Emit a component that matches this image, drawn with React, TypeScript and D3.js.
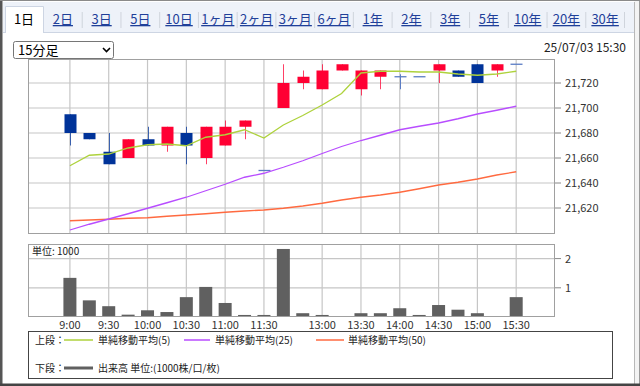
import React from "react";
import * as d3 from "d3";

const tabs = ["1日", "2日", "3日", "5日", "10日", "1ヶ月", "2ヶ月", "3ヶ月", "6ヶ月", "1年", "2年", "3年", "5年", "10年", "20年", "30年"];
const times = ["9:00", "9:15", "9:30", "9:45", "10:00", "10:15", "10:30", "10:45", "11:00", "11:15", "11:30", "12:30", "12:45", "13:00", "13:15", "13:30", "13:45", "14:00", "14:15", "14:30", "14:45", "15:00", "15:15", "15:30"];
const timeTicks = ["9:00", "9:30", "10:00", "10:30", "11:00", "11:30", "13:00", "13:30", "14:00", "14:30", "15:00", "15:30"];

const opens = [21695, 21680, 21665, 21660, 21675, 21670, 21680, 21660, 21670, 21685, 21650, 21700, 21720, 21715, 21730, 21715, 21725, 21725, 21725, 21730, 21730, 21735, 21730, 21735];
const highs = [21695, 21680, 21680, 21675, 21685, 21685, 21685, 21685, 21690, 21690, 21650, 21735, 21730, 21735, 21735, 21730, 21730, 21727, 21725, 21735, 21730, 21735, 21735, 21735];
const lows = [21670, 21675, 21655, 21660, 21670, 21665, 21655, 21655, 21670, 21675, 21650, 21700, 21715, 21715, 21730, 21710, 21715, 21715, 21725, 21720, 21725, 21720, 21725, 21735];
const closes = [21680, 21675, 21655, 21675, 21670, 21685, 21670, 21685, 21685, 21690, 21650, 21720, 21725, 21730, 21735, 21730, 21730, 21725, 21725, 21735, 21725, 21720, 21735, 21735];

const ma5 = [21653.8, 21662.2, 21663.2, 21668.0, 21670.6, 21671.2, 21669.8, 21676.6, 21678.6, 21682.6, 21676.0, 21686.4, 21694.0, 21702.4, 21711.6, 21728.0, 21729.4, 21729.4, 21728.8, 21728.8, 21727.2, 21726.2, 21727.2, 21729.4];
const ma25 = [21602.4, 21607.0, 21611.2, 21615.4, 21619.8, 21624.2, 21628.6, 21633.8, 21639.0, 21644.6, 21647.8, 21652.6, 21657.8, 21663.6, 21669.2, 21674.0, 21678.2, 21682.6, 21685.4, 21688.0, 21691.4, 21695.2, 21698.2, 21701.4];
const ma50 = [21609.8, 21610.4, 21611.0, 21611.8, 21612.2, 21613.4, 21614.4, 21615.4, 21616.6, 21617.6, 21618.4, 21619.8, 21621.6, 21623.8, 21626.4, 21628.6, 21630.4, 21632.6, 21635.4, 21638.4, 21640.6, 21643.2, 21646.4, 21649.0];

const volumes = [1.34, 0.57, 0.37, 0.08, 0.23, 0.17, 0.68, 1.03, 0.48, 0.07, 0.07, 2.33, 0.13, 0.07, 0.01, 0.13, 0.13, 0.3, 0.07, 0.41, 0.25, 0.13, 0.01, 0.68];

const priceTicks = [21620, 21640, 21660, 21680, 21700, 21720];
const volTicks = [1, 2];

const FONT = "'Noto Sans CJK JP', 'Noto Sans', sans-serif";
const RED = "#ff0033";
const BLUE = "#003399";
const GRID = "#c6c6c6";

export default function App() {
  const plotL = 28, plotR = 555;
  const pTop = 59, pBot = 234;
  const vTop = 244, vBot = 317;

  const x = d3.scaleLinear().domain([-2.16, 25]).range([plotL, plotR]);
  const y = d3.scaleLinear().domain([21599.2, 21739.2]).range([pBot, pTop]);
  const yv = d3.scaleLinear().domain([0, 2.5]).range([vBot, vTop]);

  const tabBand = d3.scaleBand<string>().domain(tabs.slice(1)).range([43.5, 624.5]);

  const line = (arr: number[]) =>
    d3.line<number>().x((_, i) => x(i)).y((d) => y(d))(arr) || "";

  const idx = (t: string) => times.indexOf(t);

  return (
    <div style={{ position: "fixed", left: 0, top: 0, width: 640, height: 386 }}>
      <svg width={640} height={386} style={{ display: "block", fontFamily: FONT }}>
        <defs>
          <clipPath id="pclip">
            <rect x={plotL} y={pTop} width={plotR - plotL} height={pBot - pTop} />
          </clipPath>
        </defs>
        {/* frame */}
        <rect x={0} y={0} width={640} height={386} fill="#ffffff" />
        <rect x={634} y={0} width={6} height={386} fill="#f3f3f3" />
        <line x1={634.5} y1={2} x2={634.5} y2={384} stroke="#b8b8b8" />
        <line x1={639.5} y1={0} x2={639.5} y2={386} stroke="#9a9a9a" />
        <rect x={0} y={0} width={2.5} height={386} fill="#555" />
        <line x1={0} y1={0.5} x2={640} y2={0.5} stroke="#8a8a8a" />
        <rect x={0} y={383.5} width={640} height={2.5} fill="#444" />

        {/* tab bar */}
        <rect x={3} y={2} width={631} height={30} fill="#eef2f9" />
        <line x1={3} y1={32.5} x2={634} y2={32.5} stroke="#cdd5e3" />
        <path d="M5.5,33 L5.5,6.5 L43.5,6.5 L43.5,33" fill="#ffffff" stroke="#cdd5e3" />
        <rect x={6} y={32} width={37} height={2} fill="#ffffff" />
        <text x={24} y={24} fontSize={13} textAnchor="middle" fill="#000">
          {tabs[0]}
        </text>
        {tabs.slice(1).map((t) => {
          const bx = tabBand(t)!;
          const bw = tabBand.bandwidth();
          return (
            <g key={t}>
              <text
                x={bx + bw / 2}
                y={24}
                fontSize={13}
                textAnchor="middle"
                fill="#1f3f99"
                textDecoration="underline"
              >
                {t}
              </text>
              <line x1={bx + bw} y1={12} x2={bx + bw} y2={28} stroke="#cfd4dc" />
            </g>
          );
        })}

        {/* select */}
        <rect x={13.5} y={41.5} width={100} height={17} rx={2} fill="#fff" stroke="#767676" />
        <text x={18} y={55} fontSize={13} fill="#000">15分足</text>
        <path d="M103,48 L106.5,51.5 L110,48" fill="none" stroke="#000" strokeWidth={1.6} />

        <text x={626} y={51.5} fontSize={12} textAnchor="end" fill="#222">
          25/07/03 15:30
        </text>

        {/* price panel grid */}
        {priceTicks.map((p) => (
          <g key={p}>
            <line x1={plotL} x2={plotR} y1={y(p)} y2={y(p)} stroke={GRID} strokeWidth={1.2} />
            <line x1={plotR} x2={561} y1={y(p)} y2={y(p)} stroke="#888" />
            <text x={565} y={y(p) + 4} fontSize={11} fill="#333">
              {d3.format(",")(p)}
            </text>
          </g>
        ))}
        {timeTicks.map((t) => (
          <line key={t} x1={x(idx(t))} x2={x(idx(t))} y1={pTop} y2={pBot} stroke={GRID} strokeWidth={1.2} />
        ))}
        <rect x={plotL + 0.5} y={pTop + 0.5} width={plotR - plotL - 1} height={pBot - pTop - 1} fill="none" stroke="#a0a0a0" />

        {/* candles */}
        <g clipPath="url(#pclip)">
          {times.map((t, i) => {
            const o = opens[i], c = closes[i], h = highs[i], l = lows[i];
            const cx = Math.round(x(i)) + 0.5;
            if (o === c) {
              return (
                <g key={t}>
                  {h !== l && <line x1={cx} x2={cx} y1={y(h)} y2={y(l)} stroke="#5a7cc4" />}
                  <line x1={cx - 6} x2={cx + 6} y1={y(c)} y2={y(c)} stroke="#5a7cc4" strokeWidth={1.3} />
                </g>
              );
            }
            const col = c > o ? RED : BLUE;
            const top = y(Math.max(o, c));
            const bot = y(Math.min(o, c));
            return (
              <g key={t}>
                <line x1={cx} x2={cx} y1={y(h)} y2={y(l)} stroke={col} strokeOpacity={0.75} />
                <rect x={cx - 6} y={top} width={12} height={bot - top} fill={col} />
              </g>
            );
          })}
          <path d={line(ma50)} fill="none" stroke="#ff6a40" strokeWidth={1.3} />
          <path d={line(ma25)} fill="none" stroke="#b84dff" strokeWidth={1.3} />
          <path d={line(ma5)} fill="none" stroke="#aed23c" strokeWidth={1.3} />
        </g>

        {/* volume panel */}
        {volTicks.map((v) => (
          <g key={v}>
            <line x1={plotL} x2={plotR} y1={yv(v)} y2={yv(v)} stroke={GRID} strokeWidth={1.2} />
            <line x1={plotR} x2={561} y1={yv(v)} y2={yv(v)} stroke="#888" />
            <text x={565} y={yv(v) + 4} fontSize={11} fill="#333">
              {v}
            </text>
          </g>
        ))}
        {timeTicks.map((t) => (
          <g key={t}>
            <line x1={x(idx(t))} x2={x(idx(t))} y1={vTop} y2={vBot} stroke={GRID} strokeWidth={1.2} />
            <text x={x(idx(t))} y={329} fontSize={11} textAnchor="middle" fill="#333">
              {t}
            </text>
          </g>
        ))}
        {times.map((t, i) => (
          <rect
            key={t}
            x={x(i) - 6.5}
            y={yv(volumes[i])}
            width={13}
            height={vBot - yv(volumes[i])}
            fill="#606060"
          />
        ))}
        <rect x={plotL + 0.5} y={vTop + 0.5} width={plotR - plotL - 1} height={vBot - vTop - 1} fill="none" stroke="#a0a0a0" />
        <text x={32} y={255} fontSize={10} fill="#222">単位: 1000</text>

        {/* legend */}
        <rect x={28.5} y={331.5} width={584} height={47} fill="#fff" stroke="#444" />
        <text x={35} y={344} fontSize={10} fill="#222">上段：</text>
        <line x1={64} x2={93} y1={340} y2={340} stroke="#aed23c" strokeWidth={1.5} />
        <text x={98} y={344} fontSize={10} fill="#222">単純移動平均(5)</text>
        <line x1={184} x2={210} y1={340} y2={340} stroke="#b84dff" strokeWidth={1.5} />
        <text x={215} y={344} fontSize={10} fill="#222">単純移動平均(25)</text>
        <line x1={316} x2={344} y1={340} y2={340} stroke="#ff6a40" strokeWidth={1.5} />
        <text x={348} y={344} fontSize={10} fill="#222">単純移動平均(50)</text>
        <text x={35} y={372} fontSize={10} fill="#222">下段：</text>
        <line x1={64} x2={93} y1={368} y2={368} stroke="#606060" strokeWidth={3} />
        <text x={98} y={372} fontSize={10} fill="#222">出来高 単位:(1000株/口/枚)</text>
      </svg>
    </div>
  );
}
